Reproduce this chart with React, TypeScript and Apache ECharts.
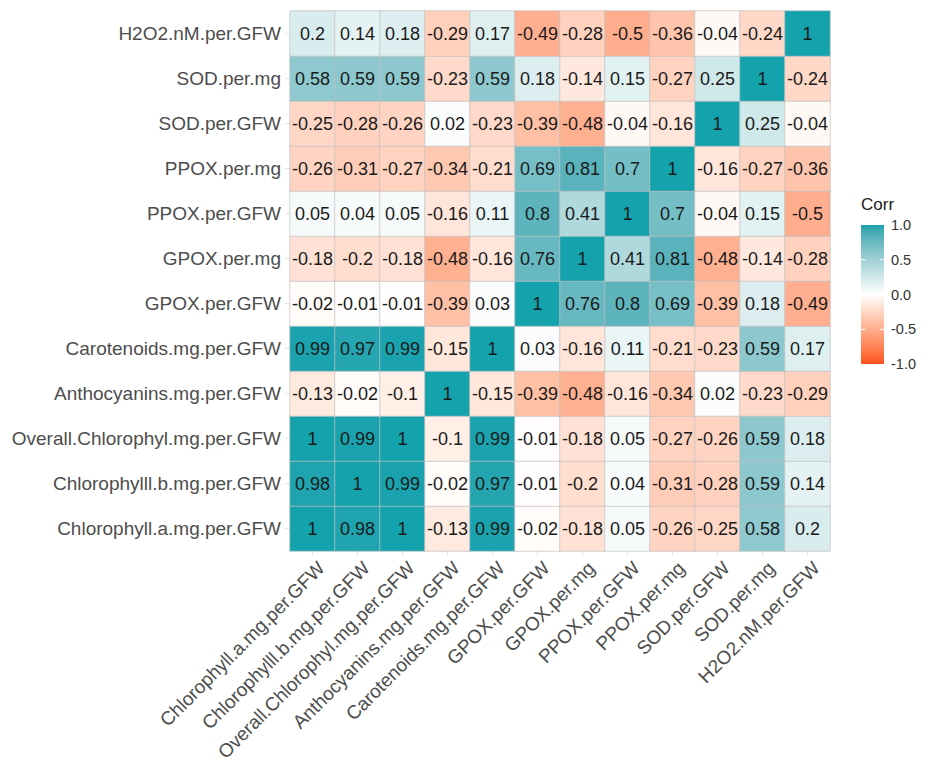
import React, { useEffect, useRef } from "react";
import * as echarts from "echarts";

// Variables, bottom-to-top on the y axis, left-to-right on the x axis
const variables = [
  "Chlorophyll.a.mg.per.GFW",
  "Chlorophylll.b.mg.per.GFW",
  "Overall.Chlorophyl.mg.per.GFW",
  "Anthocyanins.mg.per.GFW",
  "Carotenoids.mg.per.GFW",
  "GPOX.per.GFW",
  "GPOX.per.mg",
  "PPOX.per.GFW",
  "PPOX.per.mg",
  "SOD.per.GFW",
  "SOD.per.mg",
  "H2O2.nM.per.GFW",
];

// One row per y-axis variable (same order as variables), columns follow variables
const rowChlA = [1, 0.98, 1, -0.13, 0.99, -0.02, -0.18, 0.05, -0.26, -0.25, 0.58, 0.2];
const rowChlB = [0.98, 1, 0.99, -0.02, 0.97, -0.01, -0.2, 0.04, -0.31, -0.28, 0.59, 0.14];
const rowOverall = [1, 0.99, 1, -0.1, 0.99, -0.01, -0.18, 0.05, -0.27, -0.26, 0.59, 0.18];
const rowAntho = [-0.13, -0.02, -0.1, 1, -0.15, -0.39, -0.48, -0.16, -0.34, 0.02, -0.23, -0.29];
const rowCarot = [0.99, 0.97, 0.99, -0.15, 1, 0.03, -0.16, 0.11, -0.21, -0.23, 0.59, 0.17];
const rowGpoxGfw = [-0.02, -0.01, -0.01, -0.39, 0.03, 1, 0.76, 0.8, 0.69, -0.39, 0.18, -0.49];
const rowGpoxMg = [-0.18, -0.2, -0.18, -0.48, -0.16, 0.76, 1, 0.41, 0.81, -0.48, -0.14, -0.28];
const rowPpoxGfw = [0.05, 0.04, 0.05, -0.16, 0.11, 0.8, 0.41, 1, 0.7, -0.04, 0.15, -0.5];
const rowPpoxMg = [-0.26, -0.31, -0.27, -0.34, -0.21, 0.69, 0.81, 0.7, 1, -0.16, -0.27, -0.36];
const rowSodGfw = [-0.25, -0.28, -0.26, 0.02, -0.23, -0.39, -0.48, -0.04, -0.16, 1, 0.25, -0.04];
const rowSodMg = [0.58, 0.59, 0.59, -0.23, 0.59, 0.18, -0.14, 0.15, -0.27, 0.25, 1, -0.24];
const rowH2o2 = [0.2, 0.14, 0.18, -0.29, 0.17, -0.49, -0.28, -0.5, -0.36, -0.04, -0.24, 1];

const rows = [
  rowChlA, rowChlB, rowOverall, rowAntho, rowCarot, rowGpoxGfw,
  rowGpoxMg, rowPpoxGfw, rowPpoxMg, rowSodGfw, rowSodMg, rowH2o2,
];

const legendTicks = [1, 0.5, 0, -0.5, -1];
const legendTickLabels = ["1.0", "0.5", "0.0", "-0.5", "-1.0"];

// ---- colour helpers (Lab interpolation like ggplot's gradient2) ----
const LOW = "#F9531E";
const MID = "#FFFFFF";
const HIGH = "#14A2AD";

function hexToRgb(h: string) {
  const s = h.replace("#", "");
  return [0, 2, 4].map((i) => parseInt(s.slice(i, i + 2), 16) / 255);
}
function toLin(c: number) {
  return c <= 0.04045 ? c / 12.92 : Math.pow((c + 0.055) / 1.055, 2.4);
}
function fromLin(c: number) {
  return c <= 0.0031308 ? 12.92 * c : 1.055 * Math.pow(c, 1 / 2.4) - 0.055;
}
const Xn = 0.95047, Yn = 1, Zn = 1.08883;
function f(t: number) {
  return t > 0.008856 ? Math.cbrt(t) : 7.787 * t + 16 / 116;
}
function finv(t: number) {
  return t > 0.206893 ? t * t * t : (t - 16 / 116) / 7.787;
}
function hexToLab(h: string) {
  const [r, g, b] = hexToRgb(h).map(toLin);
  const X = 0.4124 * r + 0.3576 * g + 0.1805 * b;
  const Y = 0.2126 * r + 0.7152 * g + 0.0722 * b;
  const Z = 0.0193 * r + 0.1192 * g + 0.9505 * b;
  const fx = f(X / Xn), fy = f(Y / Yn), fz = f(Z / Zn);
  return [116 * fy - 16, 500 * (fx - fy), 200 * (fy - fz)];
}
function labToHex(lab: number[]) {
  const [L, a, bb] = lab;
  const fy = (L + 16) / 116;
  const fx = fy + a / 500;
  const fz = fy - bb / 200;
  const X = Xn * finv(fx), Y = Yn * finv(fy), Z = Zn * finv(fz);
  const r = 3.2406 * X - 1.5372 * Y - 0.4986 * Z;
  const g = -0.9689 * X + 1.8758 * Y + 0.0415 * Z;
  const b = 0.0557 * X - 0.204 * Y + 1.057 * Z;
  return (
    "#" +
    [r, g, b]
      .map((c) => Math.round(Math.min(1, Math.max(0, fromLin(c))) * 255))
      .map((v) => v.toString(16).padStart(2, "0"))
      .join("")
  );
}
function mixLab(a: string, b: string, t: number) {
  const A = hexToLab(a), B = hexToLab(b);
  return labToHex(A.map((v, i) => v + (B[i] - v) * t));
}
const STEPS = 40;
const colorStops: string[] = [];
for (let i = 0; i <= STEPS; i++) {
  const v = -1 + (2 * i) / STEPS;
  colorStops.push(v < 0 ? mixLab(MID, LOW, -v) : mixLab(MID, HIGH, v));
}

const FONT = "'Liberation Sans', Arial, sans-serif";

export default function App() {
  const ref = useRef<HTMLDivElement>(null);
  useEffect(() => {
    if (!ref.current) return;
    const chart = echarts.init(ref.current, undefined, { renderer: "svg" });

    const data: [number, number, number][] = [];
    rows.forEach((row, yi) => row.forEach((v, xi) => data.push([xi, yi, v])));

    const barX = 853, barY = 217, barW = 23, barH = 139;
    const valToY = (v: number) => barY + ((1 - v) / 2) * barH;

    const graphics: any[] = [
      {
        type: "text",
        left: barX,
        top: 188,
        style: { text: "Corr", font: `17px ${FONT}`, fill: "#1a1a1a" },
      },
      {
        type: "rect",
        shape: { x: barX, y: barY, width: barW, height: barH },
        style: {
          fill: new echarts.graphic.LinearGradient(
            0, 0, 0, 1,
            colorStops
              .slice()
              .reverse()
              .map((c, i) => ({ offset: i / STEPS, color: c }))
          ),
        },
      },
    ];
    legendTicks.forEach((v, i) => {
      const y = valToY(v);
      graphics.push({
        type: "text",
        x: barX + barW + 7,
        y,
        style: {
          text: legendTickLabels[i],
          font: `14.5px ${FONT}`,
          fill: "#333333",
          verticalAlign: "middle",
        },
      });
      if (v !== 1 && v !== -1) {
        graphics.push({
          type: "line",
          shape: { x1: barX, y1: y, x2: barX + 4.5, y2: y },
          style: { stroke: "#ffffff", lineWidth: 1 },
        });
        graphics.push({
          type: "line",
          shape: { x1: barX + barW - 4.5, y1: y, x2: barX + barW, y2: y },
          style: { stroke: "#ffffff", lineWidth: 1 },
        });
      }
    });

    chart.setOption({
      animation: false,
      backgroundColor: "#ffffff",
      grid: { left: 282, top: 3, width: 540, height: 540, outerBoundsMode: "none", containLabel: false },
      xAxis: {
        type: "category",
        data: variables,
        axisLine: { show: false },
        axisTick: { show: true, length: 5, alignWithLabel: true, lineStyle: { color: "#e6e6e6" } },
        splitLine: { show: false },
        axisLabel: {
          rotate: 45,
          interval: 0,
          margin: 5,
          fontSize: 19,
          color: "#4d4d4d",
          fontFamily: FONT,
          verticalAlign: "top",
          padding: [3, 0, 0, 0],
        },
      },
      yAxis: {
        type: "category",
        data: variables,
        axisLine: { show: false },
        axisTick: { show: true, length: 5, alignWithLabel: true, lineStyle: { color: "#e6e6e6" } },
        splitLine: { show: false },
        axisLabel: {
          interval: 0,
          margin: 9,
          fontSize: 19,
          color: "#4d4d4d",
          fontFamily: FONT,
        },
      },
      visualMap: {
        show: false,
        min: -1,
        max: 1,
        seriesIndex: 0,
        inRange: { color: colorStops },
      },
      series: [
        {
          type: "heatmap",
          data,
          label: {
            show: true,
            fontSize: 18,
            color: "#1a1a1a",
            fontFamily: FONT,
            formatter: (p: any) => String(p.value[2]),
          },
          itemStyle: { borderColor: "#c2c2c2", borderWidth: 0.7 },
          emphasis: { disabled: true },
        },
      ],
      graphic: graphics,
    });

    return () => chart.dispose();
  }, []);

  return <div ref={ref} style={{ width: 916, height: 757 }} />;
}
